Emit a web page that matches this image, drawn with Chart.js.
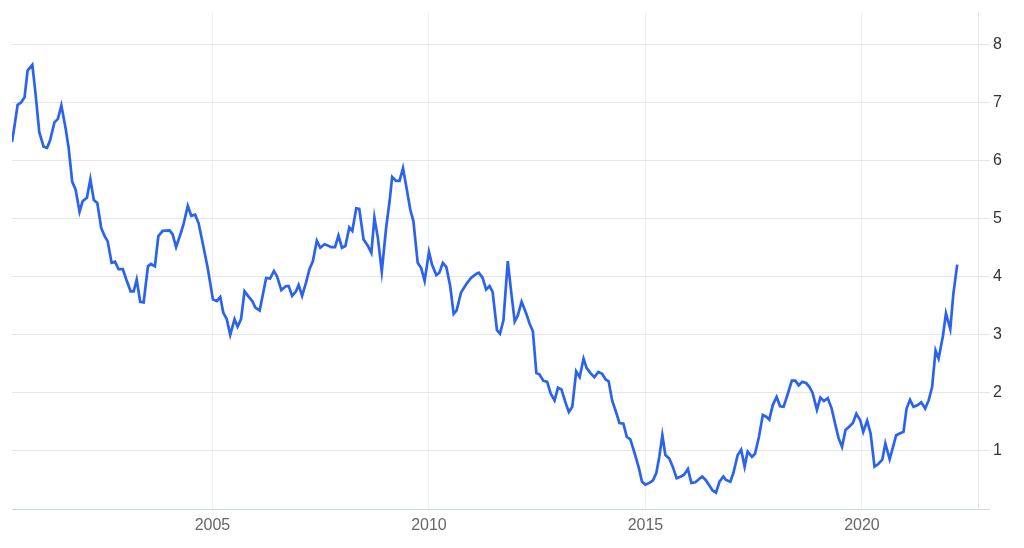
<!DOCTYPE html>
<html>
<head>
<meta charset="utf-8">
<script src="https://cdn.jsdelivr.net/npm/chart.js@4/dist/chart.umd.min.js"></script>
<style>
  html, body { margin: 0; padding: 0; background: #fff; }
  #wrap { width: 1024px; height: 548px; }
</style>
</head>
<body>
<div id="wrap"><canvas id="yieldChart"></canvas></div>
<script>
// decimal years of each vertex
const years = [
  2000.37, 2000.43, 2000.50, 2000.58, 2000.66, 2000.73, 2000.84, 2000.91, 2001.00, 2001.10,
  2001.18, 2001.25, 2001.35, 2001.43, 2001.51, 2001.61, 2001.68, 2001.76, 2001.84, 2001.93,
  2002.00, 2002.10, 2002.18, 2002.26, 2002.34, 2002.43, 2002.51, 2002.58, 2002.67, 2002.75,
  2002.83, 2002.93, 2003.02, 2003.11, 2003.18, 2003.25, 2003.33, 2003.41, 2003.51, 2003.58,
  2003.67, 2003.75, 2003.85, 2004.01, 2004.08, 2004.16, 2004.28, 2004.33, 2004.43, 2004.51,
  2004.60, 2004.68, 2004.79, 2004.89, 2005.01, 2005.10, 2005.18, 2005.25, 2005.33, 2005.41,
  2005.51, 2005.58, 2005.66, 2005.74, 2005.82, 2005.92, 2005.99, 2006.09, 2006.24, 2006.33,
  2006.42, 2006.49, 2006.59, 2006.70, 2006.76, 2006.84, 2006.93, 2006.99, 2007.07, 2007.16,
  2007.24, 2007.32, 2007.41, 2007.49, 2007.59, 2007.66, 2007.74, 2007.83, 2007.91, 2007.99,
  2008.07, 2008.16, 2008.23, 2008.32, 2008.39, 2008.49, 2008.59, 2008.67, 2008.74, 2008.82,
  2008.91, 2009.01, 2009.09, 2009.15, 2009.24, 2009.32, 2009.40, 2009.47, 2009.57, 2009.64,
  2009.74, 2009.82, 2009.90, 2010.00, 2010.07, 2010.17, 2010.24, 2010.32, 2010.40, 2010.49,
  2010.57, 2010.64, 2010.74, 2010.86, 2010.97, 2011.09, 2011.15, 2011.24, 2011.32, 2011.40,
  2011.47, 2011.57, 2011.64, 2011.72, 2011.82, 2011.90, 2011.98, 2012.05, 2012.14, 2012.25,
  2012.32, 2012.40, 2012.48, 2012.55, 2012.64, 2012.73, 2012.81, 2012.90, 2012.98, 2013.06,
  2013.15, 2013.23, 2013.31, 2013.40, 2013.48, 2013.57, 2013.64, 2013.73, 2013.82, 2013.91,
  2014.00, 2014.08, 2014.15, 2014.23, 2014.32, 2014.40, 2014.49, 2014.57, 2014.65, 2014.75,
  2014.85, 2014.92, 2015.00, 2015.09, 2015.17, 2015.25, 2015.32, 2015.39, 2015.46, 2015.55,
  2015.63, 2015.72, 2015.82, 2015.89, 2015.98, 2016.06, 2016.15, 2016.31, 2016.39, 2016.48,
  2016.55, 2016.63, 2016.71, 2016.80, 2016.86, 2016.96, 2017.03, 2017.13, 2017.21, 2017.29,
  2017.36, 2017.46, 2017.53, 2017.62, 2017.71, 2017.79, 2017.86, 2017.94, 2018.03, 2018.11,
  2018.19, 2018.29, 2018.38, 2018.46, 2018.54, 2018.62, 2018.71, 2018.79, 2018.86, 2018.96,
  2019.04, 2019.12, 2019.21, 2019.30, 2019.38, 2019.46, 2019.54, 2019.62, 2019.71, 2019.79,
  2019.87, 2019.96, 2020.03, 2020.12, 2020.20, 2020.29, 2020.37, 2020.47, 2020.54, 2020.64,
  2020.71, 2020.79, 2020.87, 2020.96, 2021.03, 2021.11, 2021.19, 2021.29, 2021.37, 2021.46,
  2021.54, 2021.62, 2021.70, 2021.77, 2021.87, 2021.94, 2022.04, 2022.11, 2022.20
];

const values = [
  6.32, 6.61, 6.96, 7.00, 7.09, 7.55, 7.65, 7.18, 6.49, 6.24,
  6.22, 6.35, 6.66, 6.72, 6.95, 6.55, 6.21, 5.64, 5.50, 5.12,
  5.30, 5.36, 5.68, 5.32, 5.27, 4.84, 4.70, 4.61, 4.24, 4.26,
  4.13, 4.13, 3.93, 3.75, 3.75, 3.95, 3.57, 3.56, 4.18, 4.22,
  4.18, 4.70, 4.79, 4.80, 4.73, 4.51, 4.78, 4.90, 5.22, 5.05,
  5.07, 4.92, 4.52, 4.15, 3.61, 3.58, 3.65, 3.38, 3.27, 3.00,
  3.27, 3.14, 3.27, 3.75, 3.67, 3.58, 3.47, 3.42, 3.98, 3.97,
  4.10, 4.01, 3.77, 3.84, 3.84, 3.67, 3.75, 3.86, 3.67, 3.90,
  4.13, 4.27, 4.62, 4.50, 4.56, 4.54, 4.51, 4.51, 4.71, 4.50,
  4.53, 4.85, 4.79, 5.18, 5.17, 4.64, 4.53, 4.41, 5.02, 4.67,
  4.09, 4.84, 5.30, 5.72, 5.65, 5.65, 5.87, 5.58, 5.15, 4.96,
  4.24, 4.15, 3.93, 4.43, 4.21, 4.03, 4.07, 4.24, 4.17, 3.84,
  3.36, 3.42, 3.73, 3.87, 3.98, 4.05, 4.07, 3.98, 3.78, 3.84,
  3.74, 3.08, 3.02, 3.25, 4.27, 3.73, 3.23, 3.33, 3.57, 3.36,
  3.20, 3.06, 2.34, 2.32, 2.21, 2.19, 1.99, 1.87, 2.09, 2.06,
  1.84, 1.67, 1.76, 2.37, 2.27, 2.59, 2.43, 2.34, 2.27, 2.36,
  2.33, 2.23, 2.20, 1.87, 1.67, 1.48, 1.47, 1.24, 1.20, 0.96,
  0.70, 0.47, 0.42, 0.45, 0.49, 0.62, 0.90, 1.27, 0.93, 0.87,
  0.73, 0.53, 0.56, 0.59, 0.69, 0.45, 0.46, 0.56, 0.50, 0.40,
  0.32, 0.28, 0.47, 0.56, 0.50, 0.47, 0.62, 0.93, 1.02, 0.73,
  0.99, 0.90, 0.95, 1.24, 1.62, 1.59, 1.54, 1.79, 1.93, 1.77,
  1.76, 1.99, 2.21, 2.21, 2.13, 2.19, 2.17, 2.10, 2.00, 1.71,
  1.92, 1.86, 1.91, 1.73, 1.47, 1.22, 1.07, 1.36, 1.42, 1.48,
  1.64, 1.53, 1.33, 1.52, 1.30, 0.73, 0.77, 0.85, 1.13, 0.86,
  1.05, 1.27, 1.30, 1.33, 1.73, 1.88, 1.76, 1.79, 1.84, 1.73,
  1.87, 2.10, 2.73, 2.59, 2.98, 3.37, 3.10, 3.70, 4.21
];

const yearTicks = [2005, 2010, 2015, 2020];
const yTicks = [0, 1, 2, 3, 4, 5, 6, 7, 8];

const points = years.map((x, i) => ({ x: x, y: values[i] }));

const ctx = document.getElementById("yieldChart").getContext("2d");
new Chart(ctx, {
  type: "line",
  data: {
    datasets: [{
      data: points,
      borderColor: "#2b62ee",
      borderWidth: 2.7,
      pointRadius: 0,
      tension: 0,
      fill: false,
    }],
  },
  options: {
    responsive: true,
    maintainAspectRatio: false,
    animation: false,
    layout: { padding: { left: 12, top: 10, right: 0, bottom: 0 } },
    plugins: { legend: { display: false }, tooltip: { enabled: false } },
    scales: {
      x: {
        type: "linear",
        min: 2000.37,
        max: 2022.68,
        afterBuildTicks: (scale) => { scale.ticks = yearTicks.map(v => ({ value: v })); },
        ticks: {
          callback: (v) => String(v),
          color: "#666",
          font: { family: "'Liberation Sans', Arial, sans-serif", size: 16 },
          padding: 7,
          maxRotation: 0,
        },
        grid: { color: "#eef0f6", drawTicks: false },
        border: { color: "#ccd6eb", width: 1 },
        afterFit: (scale) => { scale.height = 39; },
      },
      y: {
        position: "right",
        min: 0,
        max: 8.55,
        afterBuildTicks: (scale) => { scale.ticks = yTicks.map(v => ({ value: v })); },
        ticks: {
          callback: (v) => (v === 0 ? "" : String(v)),
          color: "#333",
          font: { family: "'Liberation Sans', Arial, sans-serif", size: 16 },
          padding: 3,
        },
        grid: {
          color: (c) => (c.tick && c.tick.value === 0 ? "#ccd6eb" : "#e6e6e6"),
          tickLength: 12,
        },
        border: { color: "#e6e6e6", width: 1 },
        afterFit: (scale) => { scale.width = 46; },
      },
    },
  },
});
</script>
</body>
</html>
